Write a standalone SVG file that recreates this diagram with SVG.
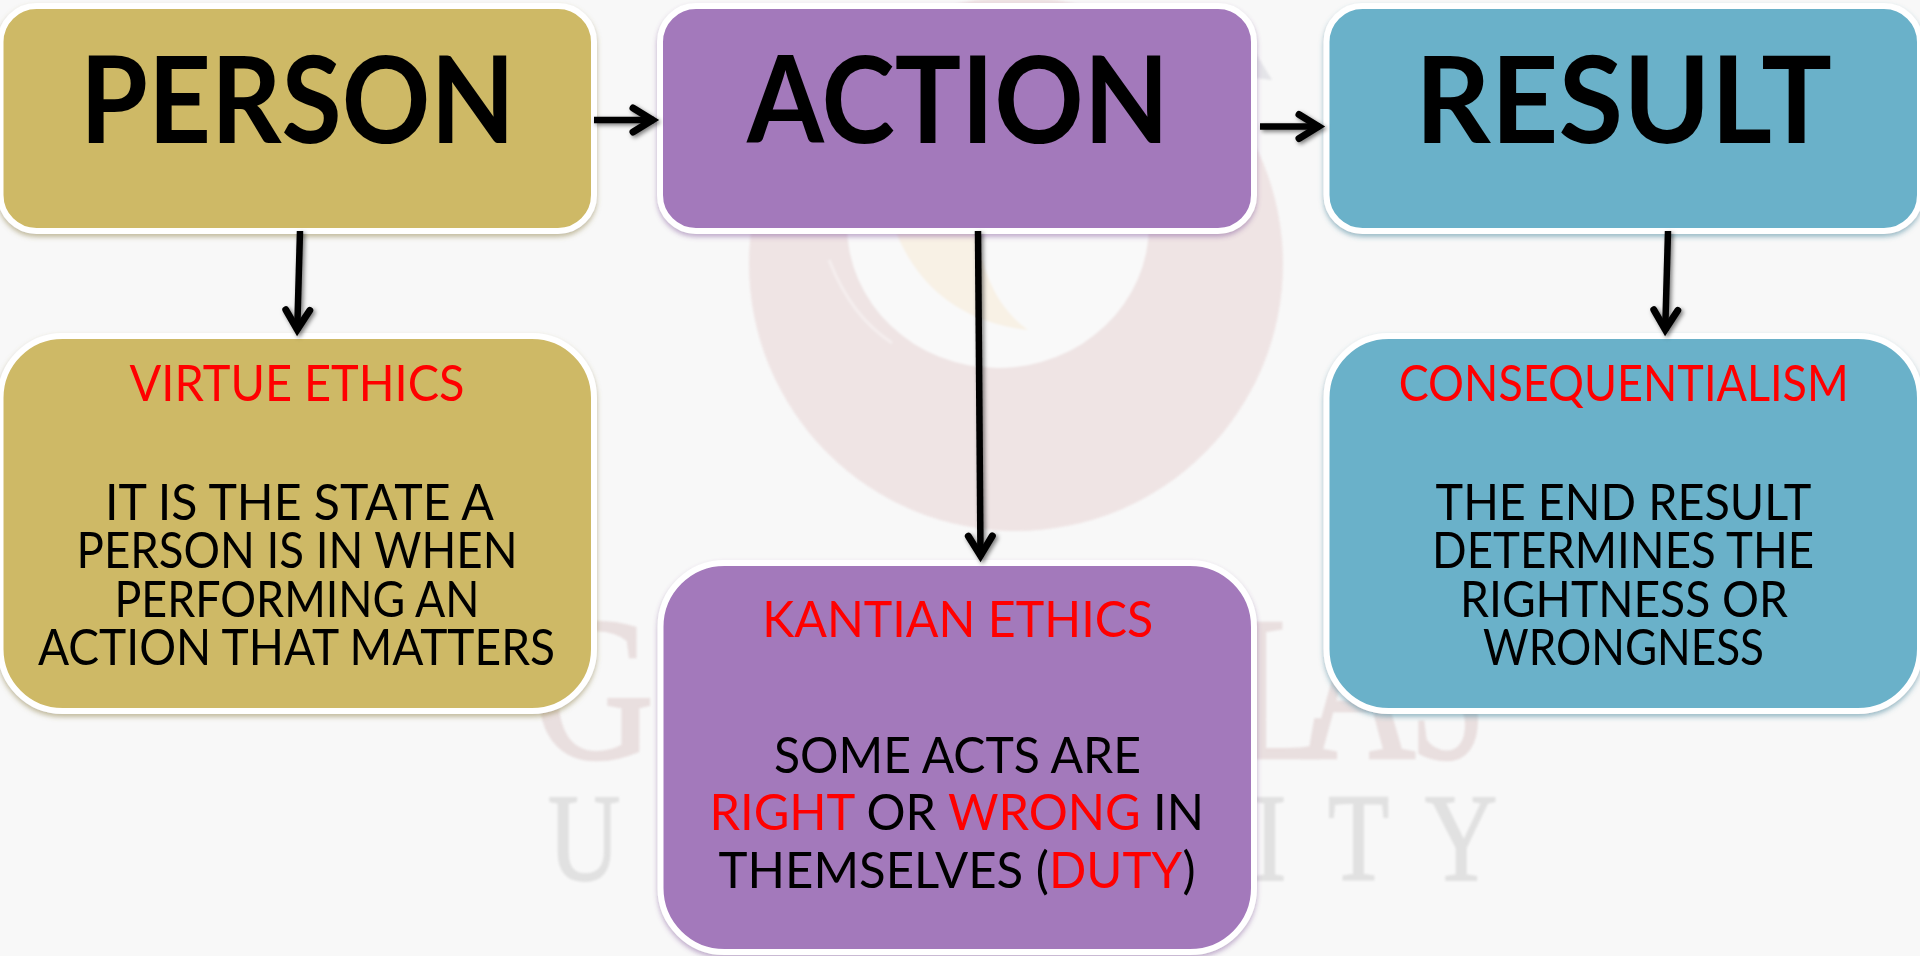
<svg xmlns="http://www.w3.org/2000/svg" width="1920" height="956" viewBox="0 0 1920 956">
<defs>
<style>
.box{stroke:#fff;stroke-width:6}
.gold{fill:#CEB966;filter:url(#sg)}
.purple{fill:#A379BB;filter:url(#sp)}
.blue{fill:#6BB1C9;filter:url(#sb)}
text{font-family:"Lato","Noto Sans","Liberation Sans",sans-serif}
.h{font-size:120px;font-weight:700;fill:#000}
.t{font-size:51px;fill:#f00}
.b{font-size:51px;fill:#000}
.r{fill:#f00}
.wm{font-family:"Liberation Serif",serif;font-size:100px;fill:#e1e1e1;stroke:#e1e1e1;stroke-width:1.5}
.wp{font-family:"Liberation Serif",serif;font-size:160px;fill:#e9dfdf;stroke:#e9dfdf;stroke-width:2}
.conn line{stroke:#000;stroke-width:6.5;fill:none;marker-end:url(#ah)}
</style>
<filter id="sg" x="-5%" y="-5%" width="110%" height="112%"><feDropShadow dx="0" dy="3" stdDeviation="2.5" flood-color="#8a7c40" flood-opacity=".5"/></filter>
<filter id="sp" x="-5%" y="-5%" width="110%" height="112%"><feDropShadow dx="0" dy="3" stdDeviation="2.5" flood-color="#7a4f96" flood-opacity=".45"/></filter>
<filter id="sb" x="-5%" y="-5%" width="110%" height="112%"><feDropShadow dx="0" dy="3" stdDeviation="2.5" flood-color="#3d7f96" flood-opacity=".5"/></filter>
<filter id="sa" filterUnits="userSpaceOnUse" x="0" y="0" width="1920" height="956"><feDropShadow dx="2" dy="2" stdDeviation="2" flood-color="#000" flood-opacity=".5"/></filter>
<filter id="soft" filterUnits="userSpaceOnUse" x="0" y="0" width="1920" height="956"><feGaussianBlur stdDeviation="1.2"/></filter>
<marker id="ah" markerUnits="userSpaceOnUse" viewBox="-40 -20 50 40" markerWidth="50" markerHeight="40" refX="-6" refY="0" orient="auto">
<path d="M-27,-12 L-7.5,0 L-27,12" fill="none" stroke="#000" stroke-width="7" stroke-linecap="round" stroke-linejoin="miter" stroke-miterlimit="6"/>
</marker>
</defs>
<rect width="1920" height="956" fill="#f8f8f8"/>
<g id="watermark" filter="url(#soft)">
<circle cx="1016" cy="264" r="267" fill="#efe4e4"/>
<ellipse cx="998" cy="225" rx="151" ry="143" fill="#f9f9f9"/>
<path d="M829,260 C845,300 865,325 892,343" fill="none" stroke="#f5eeee" stroke-width="3"/>
<path d="M896,232 C915,280 955,322 1028,330 C1000,310 985,280 975,232 Z" fill="#f8f1e5"/>
<path d="M1255,52 L1272,80 L1255,78 Z" fill="#e4e4e8"/>
<text class="wp" transform="translate(533,758) scale(1.05,1.28)">G</text>
<text class="wp" transform="translate(1232,758) scale(1,1.28)">L</text>
<text class="wp" transform="translate(1300,758) scale(1,1.28)">A</text>
<text class="wp" transform="translate(1410,758) scale(.85,1.28)">S</text>
<text class="wm" transform="translate(548,880) scale(1,1.25)">U</text>
<text class="wm" transform="translate(1253,880) scale(1,1.25)">I</text>
<text class="wm" transform="translate(1328,880) scale(1,1.25)">T</text>
<text class="wm" transform="translate(1425,880) scale(1,1.25)">Y</text>
</g>
<g id="node-person">
<rect class="box gold" x="0.5" y="6" width="593.5" height="225" rx="36"/>
<text class="h" x="80" y="143" textLength="435" lengthAdjust="spacingAndGlyphs">PERSON</text>
</g>
<g id="node-action">
<rect class="box purple" x="660" y="6" width="594" height="225" rx="36"/>
<text class="h" x="747" y="143" textLength="422" lengthAdjust="spacingAndGlyphs">ACTION</text>
</g>
<g id="node-result">
<rect class="box blue" x="1326.5" y="6" width="593.5" height="225" rx="36"/>
<text class="h" x="1415" y="143" textLength="417" lengthAdjust="spacingAndGlyphs">RESULT</text>
</g>
<g id="node-virtue">
<rect class="box gold" x="0.5" y="336" width="593.5" height="375" rx="62"/>
<text class="t" x="129.5" y="401" textLength="335" lengthAdjust="spacingAndGlyphs">VIRTUE ETHICS</text>
<text class="b" x="105" y="519.5" textLength="389" lengthAdjust="spacingAndGlyphs">IT IS THE STATE A</text>
<text class="b" x="76.5" y="568" textLength="441" lengthAdjust="spacingAndGlyphs">PERSON IS IN WHEN</text>
<text class="b" x="114.5" y="617" textLength="365" lengthAdjust="spacingAndGlyphs">PERFORMING AN</text>
<text class="b" x="38" y="665" textLength="517" lengthAdjust="spacingAndGlyphs">ACTION THAT MATTERS</text>
</g>
<g id="node-kantian">
<rect class="box purple" x="660.5" y="563" width="593.5" height="389" rx="64"/>
<text class="t" x="762.2" y="636.7" textLength="391" lengthAdjust="spacingAndGlyphs">KANTIAN ETHICS</text>
<text class="b" x="774" y="772.7" textLength="367" lengthAdjust="spacingAndGlyphs">SOME ACTS ARE</text>
<text class="b" x="709.5" y="830" textLength="494.5" lengthAdjust="spacingAndGlyphs"><tspan class="r">RIGHT</tspan> OR <tspan class="r">WRONG</tspan> IN</text>
<text class="b" x="718.5" y="887.7" textLength="477" lengthAdjust="spacingAndGlyphs">THEMSELVES (<tspan class="r">DUTY</tspan>)</text>
</g>
<g id="node-consequentialism">
<rect class="box blue" x="1326.5" y="336" width="593.5" height="375" rx="62"/>
<text class="t" x="1398.7" y="401" textLength="450" lengthAdjust="spacingAndGlyphs">CONSEQUENTIALISM</text>
<text class="b" x="1435.5" y="519.5" textLength="376" lengthAdjust="spacingAndGlyphs">THE END RESULT</text>
<text class="b" x="1432" y="568" textLength="382" lengthAdjust="spacingAndGlyphs">DETERMINES THE</text>
<text class="b" x="1460" y="617" textLength="328" lengthAdjust="spacingAndGlyphs">RIGHTNESS OR</text>
<text class="b" x="1483" y="665" textLength="281" lengthAdjust="spacingAndGlyphs">WRONGNESS</text>
</g>
<g id="connectors" class="conn" filter="url(#sa)">
<line x1="594" y1="120" x2="654" y2="120"/>
<line x1="1260" y1="126.5" x2="1320" y2="126.5"/>
<line x1="300" y1="231" x2="297.2" y2="331"/>
<line x1="978" y1="231" x2="980.5" y2="557"/>
<line x1="1668" y1="231" x2="1665.2" y2="331"/>
</g>
</svg>
